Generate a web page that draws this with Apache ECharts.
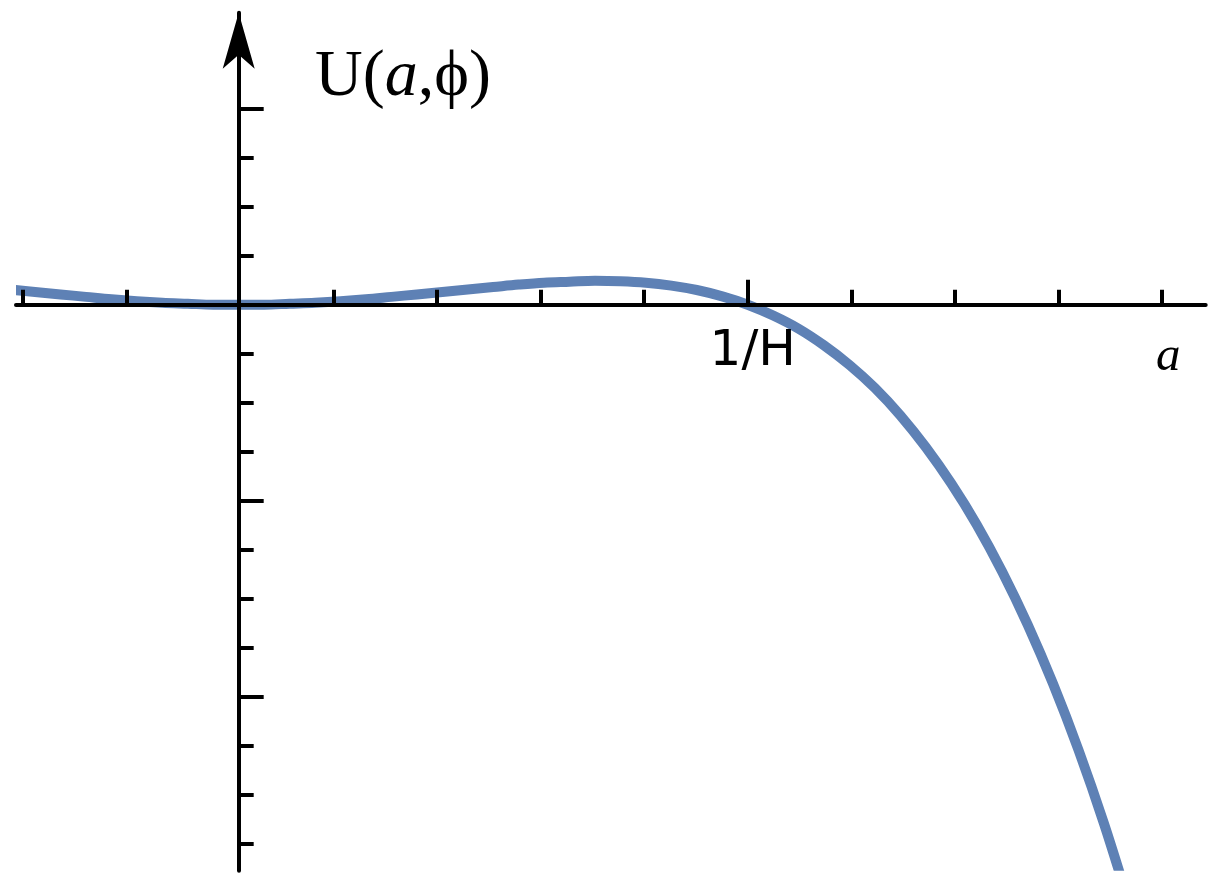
<!DOCTYPE html>
<html>
<head>
<meta charset="utf-8">
<script src="https://cdn.jsdelivr.net/npm/echarts@6/dist/echarts.min.js"></script>
<style>
html,body{margin:0;padding:0;background:#fff;}
#chart{width:1224px;height:887px;}
</style>
</head>
<body>
<div id="chart"></div>
<script>
// a in units of 1/H
const aValues = [-0.45,-0.40,-0.35,-0.30,-0.25,-0.20,-0.15,-0.10,-0.05,0.00,
  0.05,0.10,0.15,0.20,0.25,0.30,0.35,0.40,0.45,0.50,
  0.55,0.60,0.65,0.70,0.75,0.80,0.85,0.90,0.95,1.00,
  1.05,1.10,1.15,1.20,1.25,1.30,1.35,1.40,1.45,1.50,
  1.55,1.60,1.65,1.70,1.75];
// U(a,phi) in units of one y tick step
const uValues = [0.31,0.26,0.21,0.16,0.11,0.07,0.04,0.02,0.00,0.00,
  0.00,0.02,0.04,0.07,0.11,0.16,0.21,0.26,0.31,0.36,
  0.41,0.45,0.47,0.49,0.48,0.45,0.39,0.30,0.17,0.00,
  -0.22,-0.49,-0.83,-1.23,-1.70,-2.26,-2.91,-3.65,-4.49,-5.45,
  -6.53,-7.74,-9.09,-10.59,-12.25];

const xRange = [-0.4375, 1.8998];
const yRange = [-11.551, 5.959];
const xMinorTicks = [-0.4244,-0.2209,0.1861,0.3896,0.5930,0.7965,1,1.2035,1.4070,1.6104,1.8139];
const xMajorTicks = [1];
const xTickLabels = ['1/H'];
const yMinorTicks = [-11,-10,-9,-8,-7,-6,-5,-4,-3,-2,-1,1,2,3,4];
const yMajorTicks = [-8,-4,4];
const yAxisTitle = ['U(', 'a', ',ϕ)'];
const xAxisTitle = 'a';

const seriesData = aValues.map((a, i) => [a, uValues[i]]);

const plot = {left: 16, top: 12.7, right: 1205.7, bottom: 870.7};
const lineW = 10;
const pxPerX = (plot.right - plot.left) / (xRange[1] - xRange[0]);
const pxPerY = (plot.bottom - plot.top) / (yRange[1] - yRange[0]);
const inset = lineW / 2;
// inner grid for the curve so that ECharts' clip (grid + lineWidth/2) matches the plot frame
const innerXRange = [xRange[0] + inset / pxPerX, xRange[1] - inset / pxPerX];
const innerYRange = [yRange[0] + inset / pxPerY, yRange[1] - inset / pxPerY];

function gridOf(b) {
  return {left: b.left, top: b.top, width: b.right - b.left, height: b.bottom - b.top, containLabel: false, outerBoundsMode: 'none'};
}
const black = '#000';

const chart = echarts.init(document.getElementById('chart'), null, {renderer: 'canvas'});
chart.setOption({
  animation: false,
  backgroundColor: '#fff',
  grid: [
    gridOf(plot),
    gridOf(plot),
    gridOf({left: plot.left + inset, top: plot.top + inset, right: plot.right - inset, bottom: plot.bottom - inset})
  ],
  xAxis: [
    {
      type: 'value', gridIndex: 0, min: xRange[0], max: xRange[1], z: 5,
      axisLine: {show: true, onZero: true, lineStyle: {color: black, width: 4}},
      axisTick: {show: true, inside: true, length: 15, customValues: xMinorTicks, lineStyle: {color: black, width: 4}},
      axisLabel: {show: false},
      splitLine: {show: false}
    },
    {
      type: 'value', gridIndex: 1, min: xRange[0], max: xRange[1], z: 5,
      axisLine: {show: false, onZero: true},
      axisTick: {show: true, inside: true, length: 25, customValues: xMajorTicks, lineStyle: {color: black, width: 4}},
      axisLabel: {show: false},
      splitLine: {show: false}
    },
    {
      type: 'value', gridIndex: 2, min: innerXRange[0], max: innerXRange[1], show: false
    }
  ],
  yAxis: [
    {
      type: 'value', gridIndex: 0, min: yRange[0], max: yRange[1], z: 5,
      axisLine: {show: true, onZero: true, symbol: ['none', 'arrow'], symbolSize: [24, 56], lineStyle: {color: black, width: 4}},
      axisTick: {show: true, inside: true, length: 15, customValues: yMinorTicks, lineStyle: {color: black, width: 4}},
      axisLabel: {show: false},
      splitLine: {show: false}
    },
    {
      type: 'value', gridIndex: 1, min: yRange[0], max: yRange[1], z: 5,
      axisLine: {show: false, onZero: true},
      axisTick: {show: true, inside: true, length: 25, customValues: yMajorTicks, lineStyle: {color: black, width: 4}},
      axisLabel: {show: false},
      splitLine: {show: false}
    },
    {
      type: 'value', gridIndex: 2, min: innerYRange[0], max: innerYRange[1], show: false
    }
  ],
  graphic: [
    {
      type: 'text', left: 315, top: 44.7, z: 10,
      style: {
        text: '{n|' + yAxisTitle[0] + '}{i|' + yAxisTitle[1] + '}{n|' + yAxisTitle[2] + '}',
        rich: {
          n: {fontFamily: 'Liberation Serif, DejaVu Serif, serif', fontSize: 66, lineHeight: 66, fill: black},
          i: {fontFamily: 'Liberation Serif, DejaVu Serif, serif', fontStyle: 'italic', fontSize: 66, lineHeight: 66, fill: black}
        }
      }
    },
    {
      type: 'text', left: 1156, top: 333, z: 10,
      style: {
        text: xAxisTitle, fill: black,
        fontFamily: 'Liberation Serif, DejaVu Serif, serif', fontStyle: 'italic',
        fontSize: 49, lineHeight: 49
      }
    }
  ],
  series: [
    {
      type: 'line', xAxisIndex: 2, yAxisIndex: 2, z: 2,
      data: seriesData, showSymbol: false, smooth: 0.35,
      clip: true,
      lineStyle: {color: '#5E81B5', width: lineW},
      itemStyle: {color: '#5E81B5'},
      markPoint: {
        silent: true,
        symbol: 'circle', symbolSize: 1,
        itemStyle: {color: 'rgba(0,0,0,0)'},
        label: {
          show: true, position: 'inside', offset: [5, 47],
          formatter: function (p) { return p.name; },
          color: black, fontFamily: 'DejaVu Sans', fontSize: 50
        },
        data: xMajorTicks.map((v, i) => ({name: xTickLabels[i], coord: [v, 0]}))
      }
    }
  ]
});
</script>
</body>
</html>
